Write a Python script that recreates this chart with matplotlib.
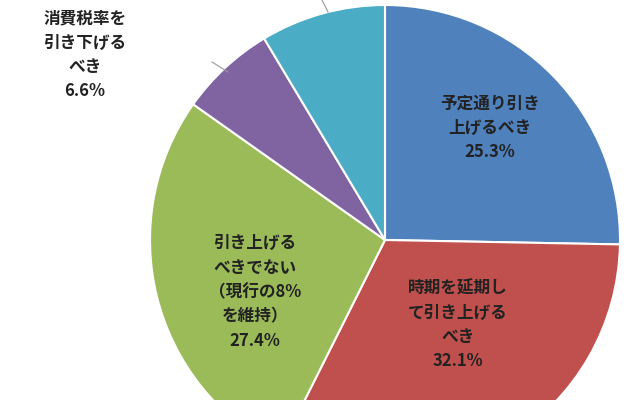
import matplotlib
matplotlib.use("Agg")
import matplotlib.pyplot as plt

plt.rcParams['font.family'] = ['Noto Sans CJK JP', 'DejaVu Sans']

labels = ["予定通り引き\n上げるべき", "時期を延期し\nて引き上げる\nべき", "引き上げる\nべきでない\n（現行の8%\nを維持）", "消費税率を\n引き下げる\nべき", "わからない"]
values = [25.3, 32.1, 27.4, 6.6, 8.6]
colors = ["#4F81BD", "#C0504D", "#9BBB59", "#8064A2", "#4BACC6"]

W, H = 640, 400
fig = plt.figure(figsize=(6.4, 4.0), dpi=100)
cx, cy, r = 385, 240, 235
ax = fig.add_axes([(cx - r) / W, (H - cy - r) / H, 2 * r / W, 2 * r / H])
ax.pie(values, colors=colors, startangle=90, counterclock=False,
       wedgeprops=dict(edgecolor="white", linewidth=1.5))
ax.set_aspect("equal")
ax.set_xlim(-1, 1); ax.set_ylim(-1, 1)
ax.axis("off")

pos = [(490, 128), (458, 325), (255, 292), (85, 55), (320, -30)]
for (x, y), lab, v in zip(pos, labels, values):
    fig.text(x / W, 1 - y / H, f"{lab}\n{v}%", ha="center", va="center",
             fontsize=12, fontweight="bold", color="#222222", linespacing=1.45)

# leader lines
fig.add_artist(plt.Line2D([212 / W, 228 / W], [1 - 62 / H, 1 - 72 / H], color="#999999", lw=0.8))
fig.add_artist(plt.Line2D([322 / W, 328 / W], [1 - 0 / H, 1 - 12 / H], color="#999999", lw=0.8))

fig.savefig("out.png", dpi=100)
